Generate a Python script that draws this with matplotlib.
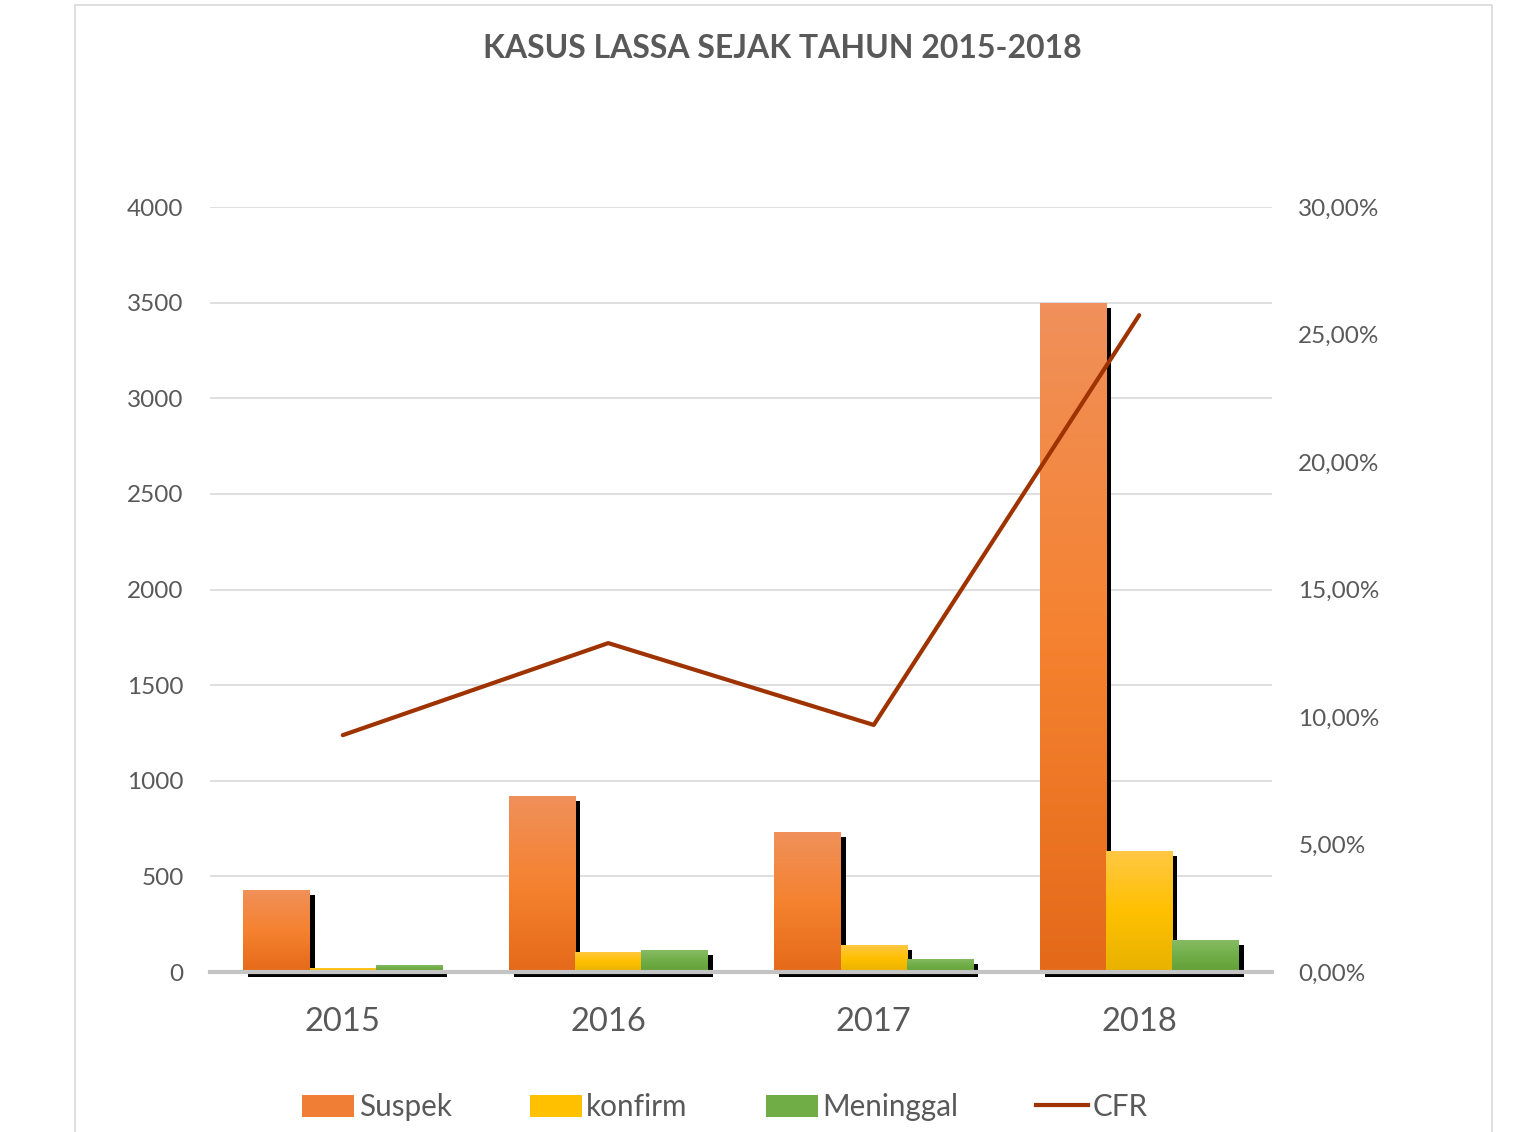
import numpy as np
import matplotlib
matplotlib.use("Agg")
from matplotlib import pyplot as plt
from matplotlib import patheffects as pe
from matplotlib.colors import LinearSegmentedColormap
from matplotlib.patches import Patch, Rectangle
from matplotlib.lines import Line2D
from matplotlib.ticker import FuncFormatter

years = ['2015', '2016', '2017', '2018']
suspek = [430, 920, 732, 3498]
konfirm = [22, 105, 141, 633]
meninggal = [37, 115, 68, 167]
cfr = [0.0929, 0.129, 0.0969, 0.2576]

series_names = ['Suspek', 'konfirm', 'Meninggal']
series_vals = [suspek, konfirm, meninggal]
# top, middle, bottom colours of each gradient
grads = [['#F0905A', '#F58230', '#E46A1A'],
         ['#FFC845', '#FFC000', '#E8B200'],
         ['#86BC64', '#70AD47', '#60A034']]
legend_cols = ['#F07E35', '#FFC000', '#70AD47']
grey = '#595959'

plt.rcParams['font.family'] = ['Lato', 'DejaVu Sans']

fig = plt.figure(figsize=(15.2, 11.32), dpi=100)
ax = fig.add_axes([0.1382, 0.1413, 0.6986, 0.6758])

x = np.arange(len(years))
width = 0.25
shadow = pe.SimplePatchShadow(offset=(3.6, -3.4), shadow_rgbFace='black', alpha=1.0)

for i, (name, vals) in enumerate(zip(series_names, series_vals)):
    pos = x + (i - 1) * width
    bars = ax.bar(pos, vals, width, color=grads[i][1], zorder=3, clip_on=False,
                  path_effects=[shadow, pe.Normal()])
    cmap = LinearSegmentedColormap.from_list(name, grads[i][::-1])
    for b in bars:
        grad = np.linspace(1, 0, 100).reshape(-1, 1)
        im = ax.imshow(grad, cmap=cmap, aspect='auto', origin='upper',
                       extent=[b.get_x(), b.get_x() + b.get_width(), 0, b.get_height()],
                       zorder=3.5, interpolation='bicubic')
        im.set_clip_path(b)

ax.set_xlim(-0.5, 3.5)
ax.set_ylim(0, 4000)
ax.set_yticks(np.arange(0, 4001, 500))
ax.set_xticks(x)
ax.set_xticklabels(years)
ax.grid(axis='y', color='#D9D9D9', linewidth=1.2, zorder=0)
ax.axhline(0, color='#C4C4C4', linewidth=3, zorder=4, clip_on=False)
for s in ax.spines.values():
    s.set_visible(False)
ax.tick_params(axis='y', length=0, pad=19, labelsize=17.5, labelcolor=grey)
ax.tick_params(axis='x', length=0, pad=25, labelsize=23.5, labelcolor=grey)

ax2 = ax.twinx()
ax2.plot(x, cfr, color='#9E3300', linewidth=3, solid_capstyle='round', zorder=5)
ax2.set_ylim(0, 0.30)
ax2.set_yticks(np.arange(0, 0.301, 0.05))
ax2.yaxis.set_major_formatter(FuncFormatter(lambda v, p: ('%.2f%%' % (v * 100)).replace('.', ',')))
for s in ax2.spines.values():
    s.set_visible(False)
ax2.tick_params(axis='y', length=0, pad=19, labelsize=17.5, labelcolor=grey)

fig.text(0.515, 0.957, 'KASUS LASSA SEJAK TAHUN 2015-2018', ha='center', va='center',
         fontsize=23, fontweight='bold', color=grey)

handles = [Patch(facecolor=c) for c in legend_cols]
handles.append(Line2D([0], [0], color='#9E3300', linewidth=3))
leg = fig.legend(handles, series_names + ['CFR'], loc='center', bbox_to_anchor=(0.477, 0.022),
                 ncol=4, frameon=False, fontsize=21.3, handlelength=1.75, handleheight=0.8,
                 handletextpad=0.15, columnspacing=2.65, labelcolor=grey)

fig.patches.append(Rectangle((0.0493, -0.01), 0.9322, 1.0056, transform=fig.transFigure,
                             fill=False, edgecolor='#D9D9D9', linewidth=1.2))

fig.savefig('out.png', dpi=100)
